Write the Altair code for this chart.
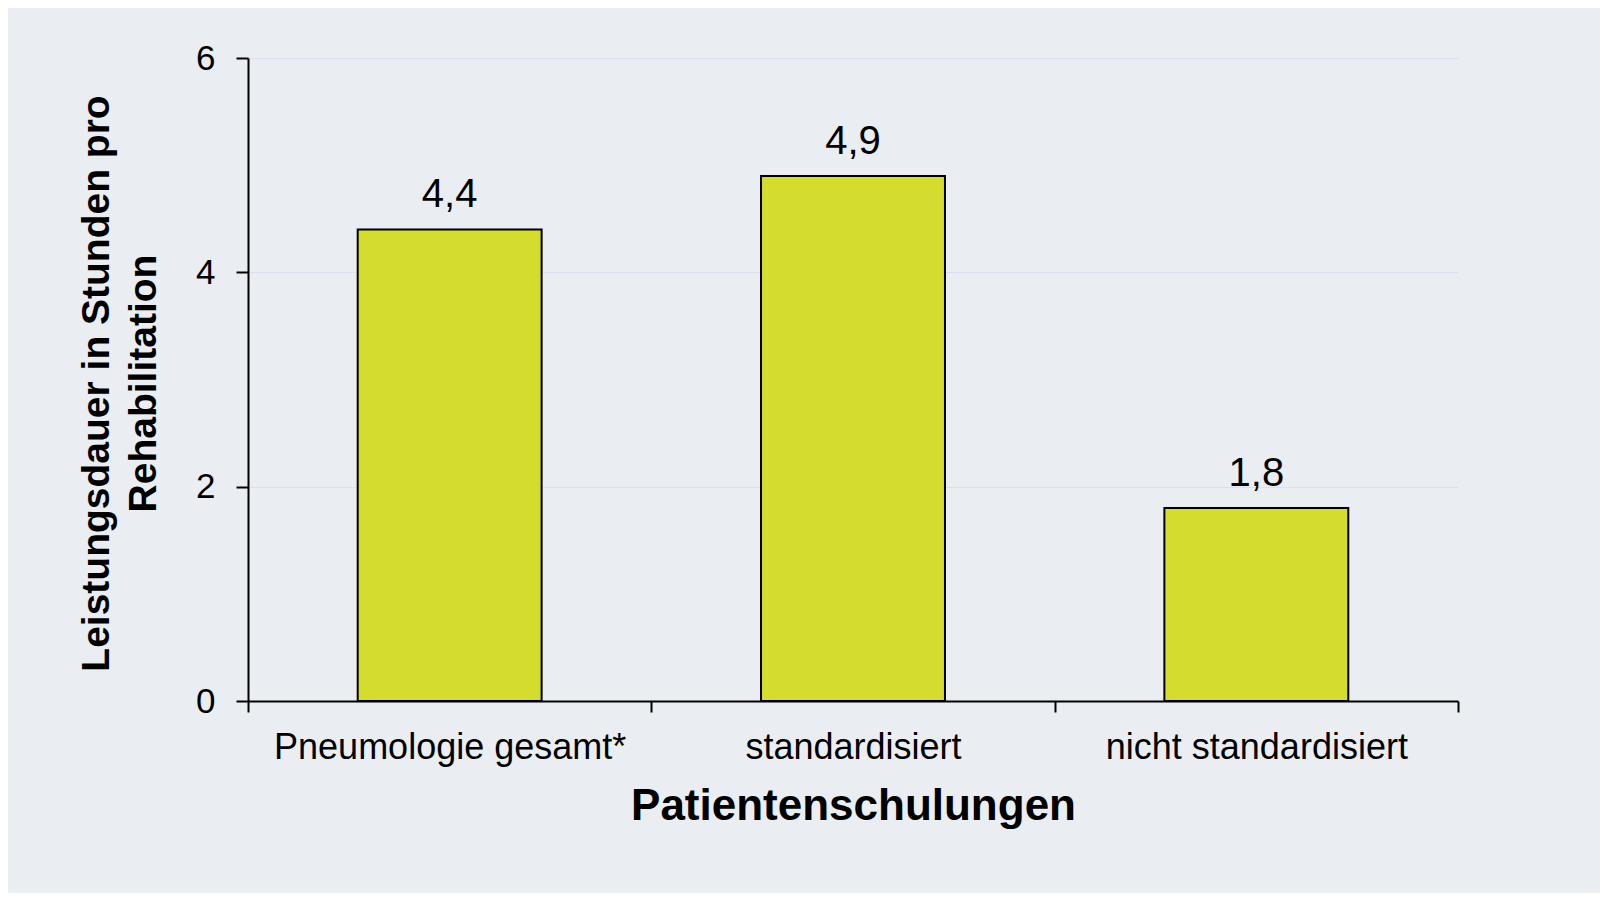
import altair as alt
import pandas as pd

categories = ["Pneumologie gesamt*", "standardisiert", "nicht standardisiert"]
values = [4.4, 4.9, 1.8]
y_ticks = [0, 2, 4, 6]

df = pd.DataFrame({"kategorie": categories, "wert": values})

FONT = "Liberation Sans"
BG = "#eaedf2"
BAR = "#d4dd2d"

x_enc = alt.X(
    "kategorie:N",
    sort=categories,
    scale=alt.Scale(paddingInner=0, paddingOuter=0),
    axis=alt.Axis(
        title="Patientenschulungen",
        labelAngle=0,
        labelLimit=0,
        labelFont=FONT,
        labelFontSize=36,
        labelColor="black",
        labelPadding=18,
        tickBand="extent",
        tickSize=11,
        tickWidth=2,
        tickColor="black",
        domainColor="black",
        domainWidth=2,
        titleFont=FONT,
        titleFontSize=44,
        titleFontWeight="bold",
        titleColor="black",
        titleY=118,
        titleBaseline="alphabetic",
        grid=False,
    ),
)

y_enc = alt.Y(
    "wert:Q",
    scale=alt.Scale(domain=[0, 6], nice=False),
    axis=alt.Axis(
        title=["Leistungsdauer in Stunden pro", "Rehabilitation"],
        values=y_ticks,
        format="d",
        labelFont=FONT,
        labelFontSize=35,
        labelColor="black",
        labelPadding=21,
        tickSize=12,
        tickWidth=2,
        tickColor="black",
        domainColor="black",
        domainWidth=2,
        gridColor="#dcdff2",
        gridWidth=1,
        titleFont=FONT,
        titleFontSize=39,
        titleFontWeight="bold",
        titleColor="black",
        titleLineHeight=47,
        titleBaseline="alphabetic",
        titleX=-140,
        titleY=325,
    ),
)

bars = alt.Chart(df).mark_bar(
    color=BAR, stroke="black", strokeWidth=2, width=alt.RelativeBandSize(0.456)
).encode(x=x_enc, y=y_enc)

labels = (
    alt.Chart(df)
    .transform_calculate(txt="replace(format(datum.wert, '.1f'), '.', ',')")
    .mark_text(font=FONT, fontSize=40, baseline="alphabetic", dy=-22, color="black")
    .encode(x=alt.X("kategorie:N", sort=categories), y="wert:Q", text="txt:N")
)

chart = (
    alt.layer(bars, labels)
    .properties(
        width=1210,
        height=643,
        background=BG,
        padding={"left": 240, "top": 50, "right": 142, "bottom": 192},
        autosize=alt.AutoSizeParams(type="none"),
    )
    .configure_view(stroke=None)
)

chart.save("out.html", embed_options={"renderer": "svg", "actions": False})
